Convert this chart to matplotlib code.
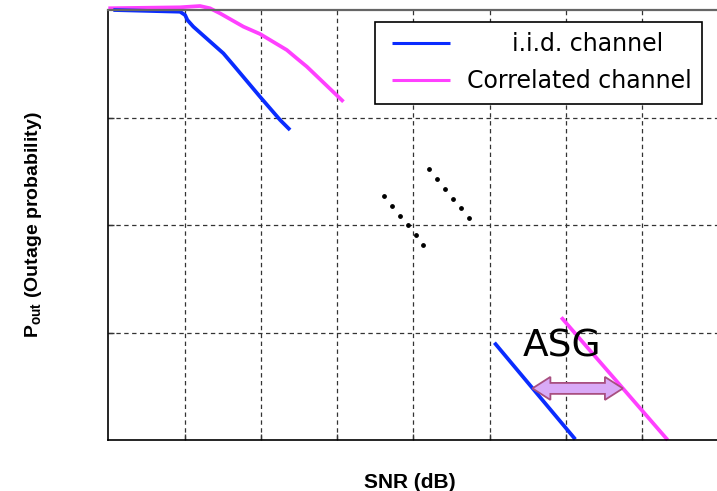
import numpy as np
import matplotlib
matplotlib.use("Agg")
import matplotlib.pyplot as plt
from matplotlib.patches import Polygon

plt.rcParams["mathtext.fontset"] = "custom"
plt.rcParams["mathtext.bf"] = "Liberation Sans:bold"
plt.rcParams["mathtext.rm"] = "Liberation Sans"

# Outage curves (SNR in grid units, Pout in decades above the bottom)
snr_iid_low = [0.066, 0.941, 1.007, 1.037, 1.115, 1.509, 1.640, 1.990, 2.253, 2.384]
pout_iid_low = [4.0, 3.984, 3.953, 3.907, 3.845, 3.597, 3.488, 3.193, 2.977, 2.884]
snr_corr_low = [0.0, 0.941, 1.203, 1.334, 1.465, 1.772, 1.990, 2.341, 2.472, 2.604, 3.084]
pout_corr_low = [4.016, 4.025, 4.037, 4.016, 3.969, 3.845, 3.777, 3.628, 3.550, 3.473, 3.147]

snr_iid_high = [5.064, 6.125]
pout_iid_high = [0.905, 0.006]
snr_corr_high = [5.94, 7.336]
pout_corr_high = [1.141, 0.0]

# Dotted continuation between the two regimes
dots_a_snr = [3.618, 3.724, 3.829, 3.930, 4.033, 4.133]
dots_a_pout = [2.267, 2.177, 2.086, 1.999, 1.907, 1.817]
dots_b_snr = [4.209, 4.313, 4.414, 4.519, 4.620, 4.725]
dots_b_pout = [2.518, 2.425, 2.335, 2.245, 2.158, 2.068]

# Array/SNR gain arrow and its label
asg_start, asg_end, asg_level = 5.562, 6.749, 0.48
asg_label = "ASG"
asg_label_pos = (5.95, 0.87)

grid_x = [1, 2, 3, 4, 5, 6, 7]
grid_y = [1, 2, 3]

BLUE = "#0a2cff"
MAGENTA = "#ff40ff"

fig = plt.figure(figsize=(7.17, 4.91), dpi=100)
ax = fig.add_axes([108.3 / 717, 51 / 491, 610 / 717, 430 / 491])
ax.set_xlim(0, 8)
ax.set_ylim(0, 4)

ax.set_xticks(grid_x)
ax.set_yticks(grid_y)
ax.set_xticklabels([])
ax.set_yticklabels([])
ax.tick_params(direction="in", length=4.5, width=1.0, colors="#333333")
ax.grid(True, color="#333333", linestyle=(0, (3.5, 2.8)), linewidth=0.9)
ax.set_axisbelow(True)

for side in ("left", "bottom"):
    ax.spines[side].set_color("black")
    ax.spines[side].set_linewidth(1.2)
ax.spines["top"].set_color("#666666")
ax.spines["top"].set_linewidth(1.6)

ax.plot(snr_corr_low, pout_corr_low, color=MAGENTA, lw=2.7, clip_on=False,
        solid_capstyle="butt", label="Correlated channel")
ax.plot(snr_iid_low, pout_iid_low, color=BLUE, lw=2.7, clip_on=False,
        solid_capstyle="butt", label="i.i.d. channel")
ax.plot(snr_iid_high, pout_iid_high, color=BLUE, lw=2.7, clip_on=False,
        solid_capstyle="butt")
ax.plot(snr_corr_high, pout_corr_high, color=MAGENTA, lw=2.7, clip_on=False,
        solid_capstyle="butt")

ax.scatter(dots_a_snr, dots_a_pout, s=6, color="black", zorder=3)
ax.scatter(dots_b_snr, dots_b_pout, s=6, color="black", zorder=3)

# Double-headed block arrow between the two high-SNR slopes
head_len = 0.236
body_half = 0.051
head_half = 0.107
verts = [
    (asg_start, asg_level),
    (asg_start + head_len, asg_level + head_half),
    (asg_start + head_len, asg_level + body_half),
    (asg_end - head_len, asg_level + body_half),
    (asg_end - head_len, asg_level + head_half),
    (asg_end, asg_level),
    (asg_end - head_len, asg_level - head_half),
    (asg_end - head_len, asg_level - body_half),
    (asg_start + head_len, asg_level - body_half),
    (asg_start + head_len, asg_level - head_half),
]
ax.add_patch(Polygon(verts, closed=True, facecolor="#d9aaf7",
                     edgecolor="#a84f80", linewidth=1.3, zorder=4))
ax.text(*asg_label_pos, asg_label, fontsize=27,
        family="DejaVu Sans", ha="center", va="center", zorder=5)

handles, labels = ax.get_legend_handles_labels()
order = [1, 0]
leg = ax.legend([handles[i] for i in order], [labels[i] for i in order],
                loc="upper right", bbox_to_anchor=(0.9738, 0.9728),
                borderaxespad=0, prop={"family": "DejaVu Sans", "size": 17},
                fancybox=False, framealpha=1, edgecolor="black",
                borderpad=0.45, labelspacing=0.55, handlelength=2.73,
                handletextpad=0.72)
leg.get_frame().set_linewidth(1.2)
for ln in leg.get_lines():
    ln.set_linewidth(2.2)
    xd = np.asarray(ln.get_xdata(), dtype=float)
    ln.set_xdata(np.linspace(xd[0] + 5.0, xd[-1], len(xd)))
leg.get_texts()[0].set_x(45)

fig.text(410 / 717, 1 - 482 / 491, "SNR (dB)", fontsize=15, fontweight="bold",
         family="Liberation Sans", ha="center", va="center")
fig.text(34 / 717, 1 - 225 / 491, r"$\mathbf{P_{out}}$ (Outage probability)",
         fontsize=14, fontweight="bold", family="Liberation Sans",
         rotation=90, ha="center", va="center")

fig.savefig("out.png", dpi=100)
